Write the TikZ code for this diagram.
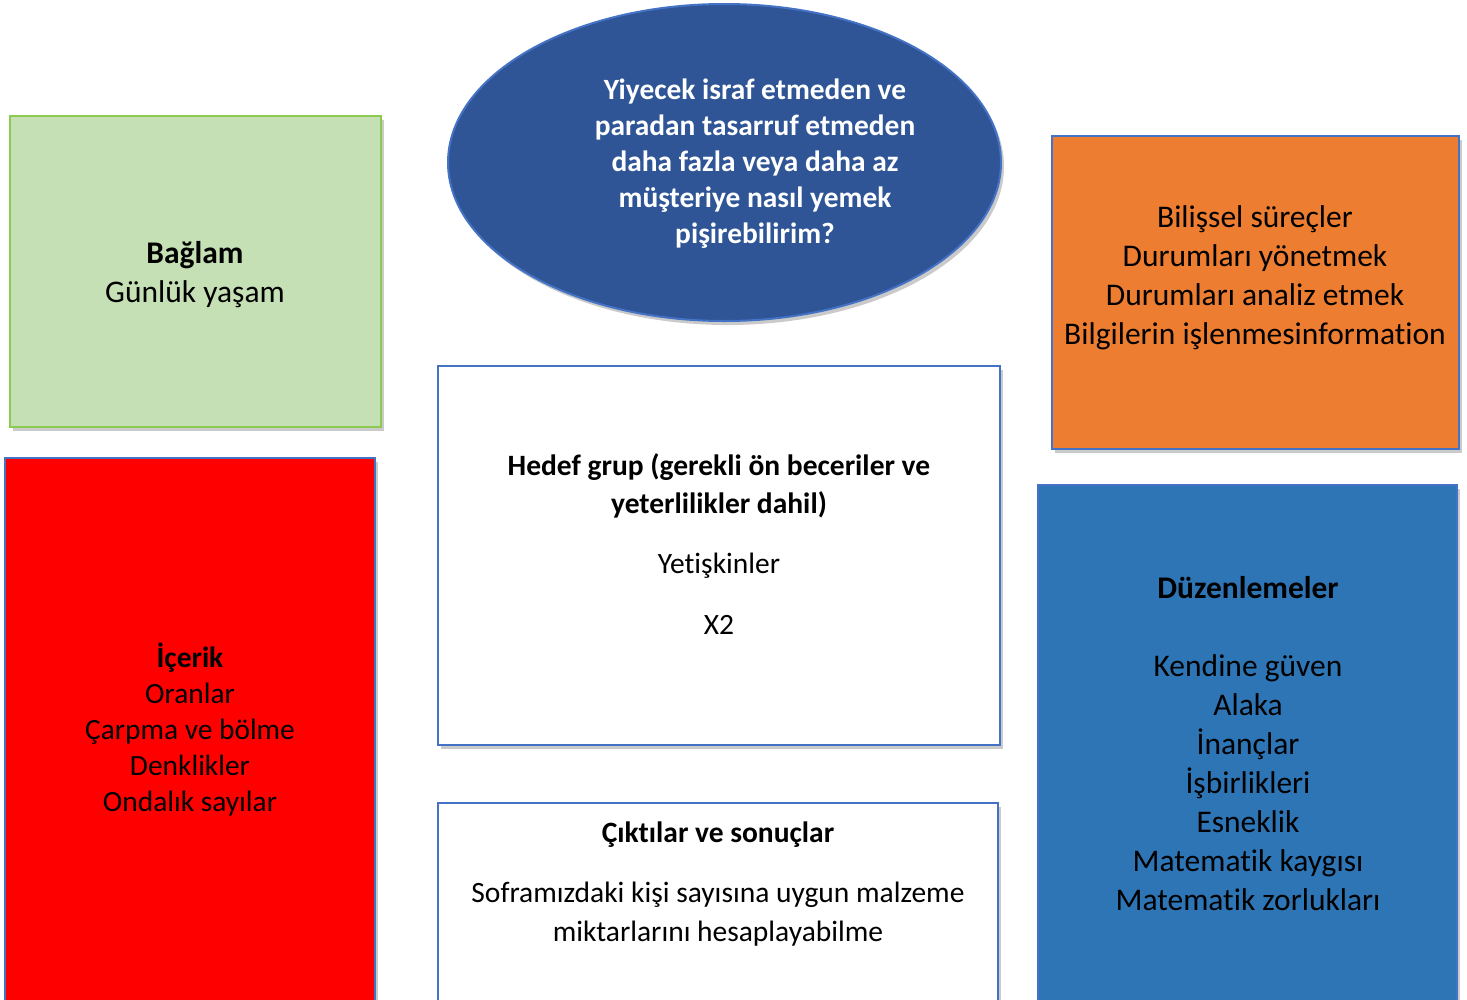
\documentclass[tikz,border=0pt]{standalone}
\usepackage{fontspec}
\setmainfont{Carlito}[Ligatures=NoCommon]
\usetikzlibrary{shadows,shapes.geometric}
\definecolor{gfill}{HTML}{C5E0B4}
\definecolor{gline}{HTML}{8CCB50}
\definecolor{efill}{HTML}{2F5597}
\definecolor{bline}{HTML}{4472C4}
\definecolor{ofill}{HTML}{ED7D31}
\definecolor{rfill}{HTML}{FF0000}
\definecolor{bfill}{HTML}{2E75B6}
\tikzset{
  shd/.style={drop shadow={shadow xshift=3pt,shadow yshift=-4pt,opacity=0.35,fill=black!60}},
  panel/.style={rectangle,draw=bline,line width=2pt,shd,inner sep=0pt},
  txt/.style={align=center,inner sep=0pt,text=black},
  fA/.style={font=\fontsize{31.5}{39}\selectfont},
  fB/.style={font=\fontsize{29.4}{36}\selectfont},
}
\begin{document}
\begin{tikzpicture}[x=1pt,y=-1pt]
\useasboundingbox (0,0) rectangle (1467,999);
\clip (0,0) rectangle (1467,999);
% panels
\node[panel,draw=gline,fill=gfill,minimum width=371pt,minimum height=311pt] (baglam) at (195.5,271.5) {};
\node[ellipse,draw=bline,line width=2pt,fill=efill,shd,minimum width=553pt,minimum height=317pt,inner sep=0pt] (soru) at (724.5,162.5) {};
\node[panel,fill=ofill,minimum width=407pt,minimum height=313pt] (bilis) at (1255.5,292.5) {};
\node[panel,fill=white,minimum width=562pt,minimum height=379pt] (hedef) at (719,555.5) {};
\node[panel,fill=rfill,minimum width=370pt,minimum height=580pt] (icerik) at (190,748) {};
\node[panel,fill=bfill,minimum width=419pt,minimum height=560pt] (duzen) at (1247.5,765) {};
\node[panel,fill=white,minimum width=560pt,minimum height=280pt] (cikti) at (718,943) {};
% texts
\node[txt,fA] (tbaglam) at (195,274.5) {\textbf{Bağlam}\\Günlük yaşam};
\node[txt,fB,text=white] (tsoru) at (755,163.5) {\textbf{Yiyecek israf etmeden ve}\\\textbf{paradan tasarruf etmeden}\\\textbf{daha fazla veya daha az}\\\textbf{müşteriye nasıl yemek}\\\textbf{pişirebilirim?}};
\node[txt,fA] (tbilis) at (1255,277.5) {Bilişsel süreçler\\Durumları yönetmek\\Durumları analiz etmek\\Bilgilerin işlenmesinformation};
\node[txt,font=\fontsize{29.5}{38}\selectfont] (thedef) at (719,544.5) {\textbf{Hedef grup (gerekli ön beceriler ve}\\\textbf{yeterlilikler dahil)}\\[22pt]Yetişkinler\\[23pt]X2};
\node[txt,fB] (ticerik) at (190,729.5) {\textbf{İçerik}\\Oranlar\\Çarpma ve bölme\\Denklikler\\Ondalık sayılar};
\node[txt,fA] (tduzen) at (1248,744) {\textbf{Düzenlemeler}\\[39pt]Kendine güven\\Alaka\\İnançlar\\İşbirlikleri\\Esneklik\\Matematik kaygısı\\Matematik zorlukları};
\node[txt,font=\fontsize{29.5}{39}\selectfont] (tcikti) at (718,884.5) {\textbf{Çıktılar ve sonuçlar}\\[21pt]Soframızdaki kişi sayısına uygun malzeme\\miktarlarını hesaplayabilme};
\end{tikzpicture}
\end{document}
